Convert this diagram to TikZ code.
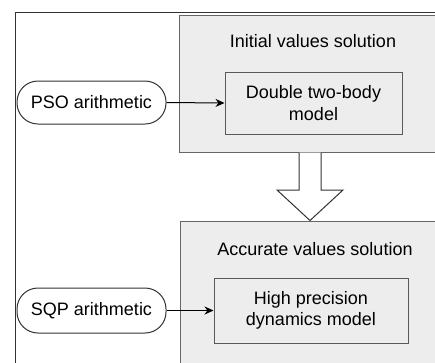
\documentclass[tikz,border=0pt]{standalone}
\usepackage{fontspec}
\setmainfont{Liberation Sans}
\usetikzlibrary{arrows.meta}
\begin{document}
\begin{tikzpicture}[x=1pt,y=-1pt,
  font=\fontsize{18}{21.6}\selectfont,
  panel/.style={draw=black!60,fill=black!7,line width=1pt,minimum width=#1},
  model/.style={draw=black!65,fill=black!7,line width=1pt,align=center,inner sep=0pt},
  algo/.style={draw=black!80,fill=white,line width=1pt,rounded corners=21pt,inner sep=0pt,minimum width=149pt},
  flow/.style={-{Stealth[length=9pt,width=8pt]},line width=1pt,black}]
\useasboundingbox (0,0) rectangle (435,362);
\fill[white] (0,0) rectangle (435,362);
% outer frame
\coordinate (fr) at (440,12);
\coordinate (fc) at (15,12);
\coordinate (fb) at (15,365);
\draw[black!80,line width=1pt] (fr) -- (fc) -- (fb);
% panels
\node[panel=266pt,minimum height=137pt] (top) at (312,83.5) {};
\node[panel=265pt,minimum height=149pt] (bot) at (312.5,295.5) {};
\node[anchor=base] (t1) at (313,47.7) {Initial values solution};
\node[anchor=base] (t2) at (315,255) {Accurate values solution};
\node[model,minimum width=177pt,minimum height=62pt] (m1) at (313.5,103) {Double two-body\\model};
\node[model,minimum width=194pt,minimum height=65pt] (m2) at (311,310.5) {High precision\\dynamics model};
\node[algo,minimum height=43pt] (pso) at (91.5,102.5) {PSO arithmetic};
\node[algo,minimum height=45pt] (sqp) at (91.5,310.5) {SQP arithmetic};
\draw[flow] (pso.east) -- (m1.west);
\draw[flow] (sqp.east) -- (m2.west);
% block arrow
\draw[fill=white,draw=black!80,line width=1pt,line join=miter]
  (top.south -| 299,0) -- (299,190) -- (277,190) -- (bot.north -| 310,0) -- (343,190) -- (321,190) -- (top.south -| 321,0);
\end{tikzpicture}
\end{document}
